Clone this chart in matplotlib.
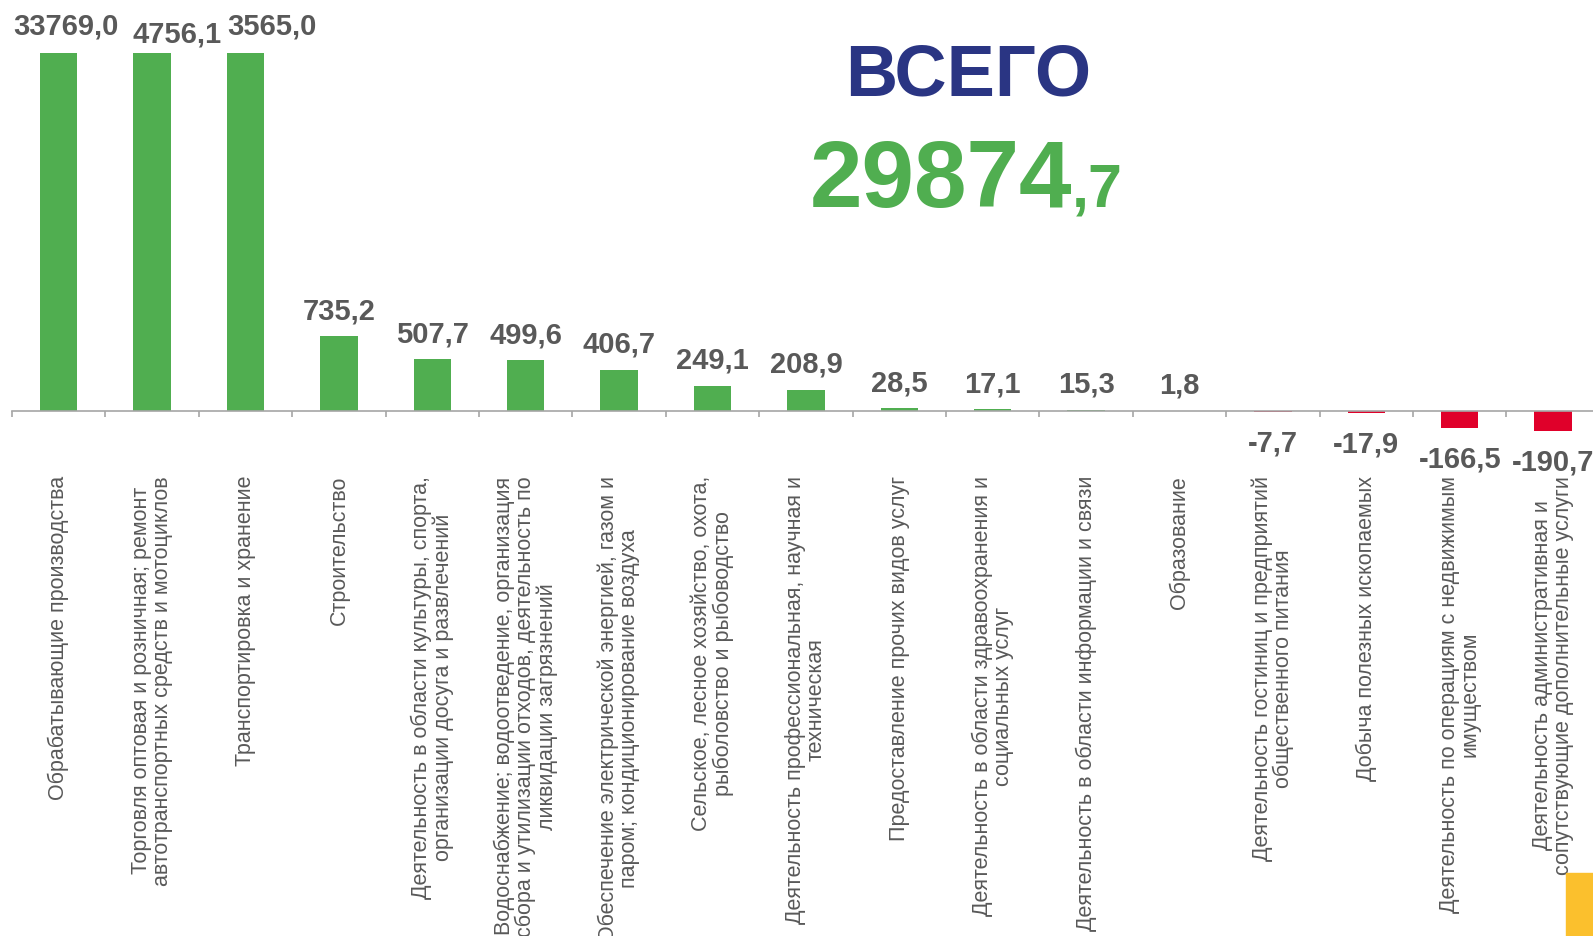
import numpy as np
import matplotlib
matplotlib.use("Agg")
import matplotlib.pyplot as plt
from matplotlib.patches import Rectangle

plt.rcParams['font.family'] = ['Liberation Sans', 'DejaVu Sans']

# data
categories = [
    "Обрабатывающие производства",
    "Торговля оптовая и розничная; ремонт\nавтотранспортных средств и мотоциклов",
    "Транспортировка и хранение",
    "Строительство",
    "Деятельность в области культуры, спорта,\nорганизации досуга и развлечений",
    "Водоснабжение; водоотведение, организация\nсбора и утилизации отходов, деятельность по\nликвидации загрязнений",
    "Обеспечение электрической энергией, газом и\nпаром; кондиционирование воздуха",
    "Сельское, лесное хозяйство, охота,\nрыболовство и рыбоводство",
    "Деятельность профессиональная, научная и\nтехническая",
    "Предоставление прочих видов услуг",
    "Деятельность в области здравоохранения и\nсоциальных услуг",
    "Деятельность в области информации и связи",
    "Образование",
    "Деятельность гостиниц и предприятий\nобщественного питания",
    "Добыча полезных ископаемых",
    "Деятельность по операциям с недвижимым\nимуществом",
    "Деятельность административная и\nсопутствующие дополнительные услуги",
]
values = [33769.0, 4756.1, 3565.0, 735.2, 507.7, 499.6, 406.7, 249.1, 208.9,
          28.5, 17.1, 15.3, 1.8, -7.7, -17.9, -166.5, -190.7]
total_int = "29874"
total_dec = ",7"
total_title = "ВСЕГО"

GREEN = '#50AE50'
RED = '#E0002A'
NAVY = '#2A3583'
GRAY_TXT = '#595959'
AXIS_GRAY = '#A6A6A6'

W, H = 1593, 937
fig = plt.figure(figsize=(W / 100, H / 100), dpi=100)

# axes placed in pixel terms: axis top ~53 px, bottom 500 px
ax_left, ax_right = 12, 12 + 17 * 93.4
ax_top, ax_bot = 53.5, 500
ax = fig.add_axes([ax_left / W, 1 - ax_bot / H, (ax_right - ax_left) / W, (ax_bot - ax_top) / H])

x = np.arange(len(values))
colors = [GREEN if v >= 0 else RED for v in values]
ax.bar(x, values, width=0.4, color=colors, zorder=2)
ax.set_xlim(-0.5, len(values) - 0.5)
ax.set_ylim(-862, 3515)

for s in ['top', 'right', 'left']:
    ax.spines[s].set_visible(False)
ax.spines['bottom'].set_position(('data', 0))
ax.spines['bottom'].set_color(AXIS_GRAY)
ax.spines['bottom'].set_linewidth(1.2)
ax.set_yticks([])

ax.set_xticks(x)
ax.set_xticklabels(categories, rotation=90, ha='center', va='top',
                   multialignment='center', fontsize=15.5, color=GRAY_TXT,
                   linespacing=1.0)
ax.tick_params(axis='x', which='major', length=0, pad=46)
ax.set_xticks(np.arange(-0.5, len(values) + 0.5, 1), minor=True)
ax.tick_params(axis='x', which='minor', length=4.5, width=1.2, color=AXIS_GRAY, direction='out')

ytop = ax.get_ylim()[1]
special = {0: (5, 14), 1: (18, 8), 2: (19, 14)}
for i, v in enumerate(values):
    txt = f"{v:.1f}".replace('.', ',')
    if v >= 0:
        dx, dy = special.get(i, (0, 13))
        ax.annotate(txt, (i, min(v, ytop)), xytext=(dx, dy), textcoords='offset points',
                    ha='center', va='baseline', fontsize=21, fontweight='bold',
                    color=GRAY_TXT, annotation_clip=False)
    else:
        ax.annotate(txt, (i, v), xytext=(0, -12), textcoords='offset points',
                    ha='center', va='top', fontsize=21, fontweight='bold',
                    color=GRAY_TXT, annotation_clip=False)

# headline total
fig.text(968 / W, 1 - 77 / H, total_title, ha='center', va='center',
         fontsize=52, fontweight='bold', color=NAVY)
fig.text(1072 / W, 1 - 207 / H, total_int, ha='right', va='baseline',
         fontsize=68, fontweight='bold', color=GREEN)
fig.text(1072 / W, 1 - 207 / H, total_dec, ha='left', va='baseline',
         fontsize=44, fontweight='bold', color=GREEN)

# yellow corner block
fig.patches.append(Rectangle((1566 / W, 0), 27 / W, 63 / H, transform=fig.transFigure,
                             color='#FBC02D', zorder=5))

fig.savefig("out.png", dpi=100)
